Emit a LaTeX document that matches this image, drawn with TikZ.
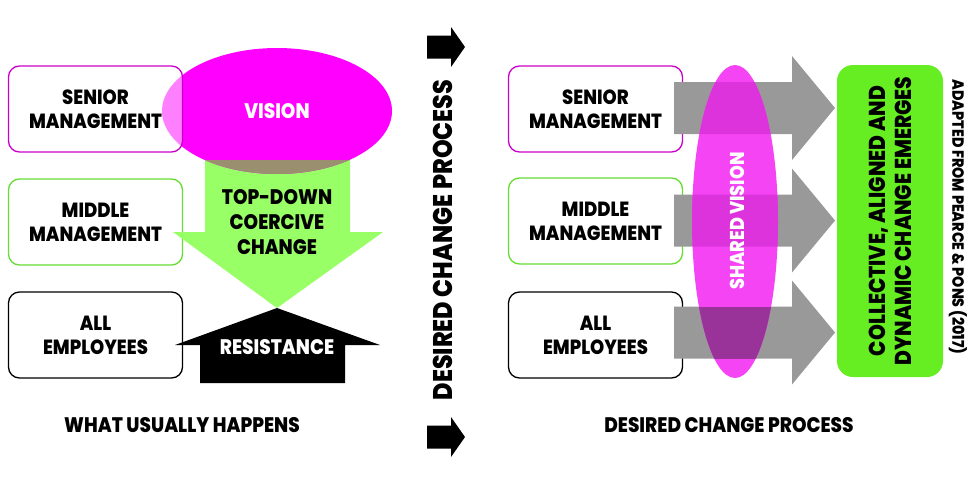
\documentclass[tikz,border=0pt]{standalone}
\usepackage{fontspec}
\setmainfont{Poppins}[FakeStretch=0.88,BoldFont={Poppins ExtraBold}]
\usetikzlibrary{shapes.geometric}
\definecolor{magline}{HTML}{CC00CC}
\definecolor{grnline}{HTML}{66DD33}
\definecolor{vismag}{HTML}{FF00FF}
\definecolor{lgreen}{HTML}{99FF66}
\definecolor{olive}{HTML}{9A9070}
\definecolor{arrgray}{HTML}{999999}
\definecolor{shmag}{HTML}{F444F4}
\definecolor{shover}{HTML}{DD33DD}
\definecolor{shdark}{HTML}{993399}
\definecolor{boxgreen}{HTML}{66EE22}

\begin{document}
\begin{tikzpicture}[x=1pt,y=-1pt,
    box/.style={draw,rounded corners=11pt,line width=1.3pt,fill=white,
      minimum width=174pt,minimum height=86pt,align=center,
      font=\bfseries\fontsize{20.5}{24}\selectfont},
    lbl/.style={font=\bfseries\fontsize{21}{25}\selectfont,align=center},
    wlbl/.style={lbl,text=white}]
  \useasboundingbox (0,0) rectangle (980,480);

  % what usually happens
  \node[box,draw=grnline] (lmid) at (95.5,222) {MIDDLE\\MANAGEMENT};
  \node[box,draw=black] (lall) at (95.5,335) {ALL\\EMPLOYEES};
  \fill[lgreen] (205,160) -- (350,160) -- (350,232) -- (383,232) -- (277,308)
    -- (173,232) -- (205,232) -- cycle;
  \node[ellipse,fill=vismag,minimum width=230pt,minimum height=126pt,wlbl] (vision) at (277,111) {VISION};
  \begin{scope}
    \clip (277,111) ellipse [x radius=115,y radius=63];
    \fill[olive] (205,160) rectangle (350,232);
  \end{scope}
  \node[box,draw=magline,fill opacity=0.5,text opacity=1] (lsen) at (95.5,109) {SENIOR\\MANAGEMENT};
  \node[lbl,text=black] (topdown) at (277,222) {TOP-DOWN\\COERCIVE\\CHANGE};
  \fill (200,383) -- (200,345) -- (175,345) -- (277,308) -- (380,345)
    -- (345,345) -- (345,383) -- cycle;
  \node[wlbl] (resist) at (277,347) {RESISTANCE};
  \node[lbl] (usual) at (182,425) {WHAT USUALLY HAPPENS};

  % middle
  \foreach \y in {47,437}
    \fill (427,\y-11.5) -- (451,\y-11.5) -- (451,\y-20) -- (465,\y) -- (451,\y+20)
      -- (451,\y+11.5) -- (427,\y+11.5) -- cycle;
  \node[rotate=90,font=\bfseries\fontsize{27}{30}\selectfont] (dcp) at (443,240) {DESIRED CHANGE PROCESS};

  % desired change process
  \node[box,draw=magline] (rsen) at (595.5,109) {SENIOR\\MANAGEMENT};
  \node[box,draw=grnline] (rmid) at (595.5,221) {MIDDLE\\MANAGEMENT};
  \node[box,draw=black] (rall) at (595.5,335) {ALL\\EMPLOYEES};
  \foreach \y in {108,220.5,332.5}
    \fill[arrgray] (674,\y-26) -- (792,\y-26) -- (792,\y-52) -- (835,\y) -- (792,\y+52)
      -- (792,\y+26) -- (674,\y+26) -- cycle;
  \fill[shmag] (735,221.5) ellipse [x radius=43,y radius=156.5];
  \begin{scope}
    \clip (735,221.5) ellipse [x radius=43,y radius=156.5];
    \fill[shover] (674,82) rectangle (792,134) (674,194.5) rectangle (792,246.5);
    \fill[shdark] (674,306.5) rectangle (792,358.5);
  \end{scope}
  \node[wlbl,rotate=90,font=\bfseries\fontsize{20}{24}\selectfont] (shared) at (737,221) {SHARED VISION};
  \node[fill=boxgreen,rounded corners=16pt,rotate=90,minimum width=312pt,minimum height=106pt,
    align=center,font=\bfseries\fontsize{23}{26}\selectfont] (emerge) at (890,221)
    {COLLECTIVE, ALIGNED AND\\DYNAMIC CHANGE EMERGES};
  \node[rotate=-90,font=\bfseries\fontsize{16.2}{20}\selectfont] (source) at (958,217) {ADAPTED FROM PEARCE \& PONS (2017)};
  \node[lbl] (desired) at (729,425) {DESIRED CHANGE PROCESS};
\end{tikzpicture}
\end{document}
